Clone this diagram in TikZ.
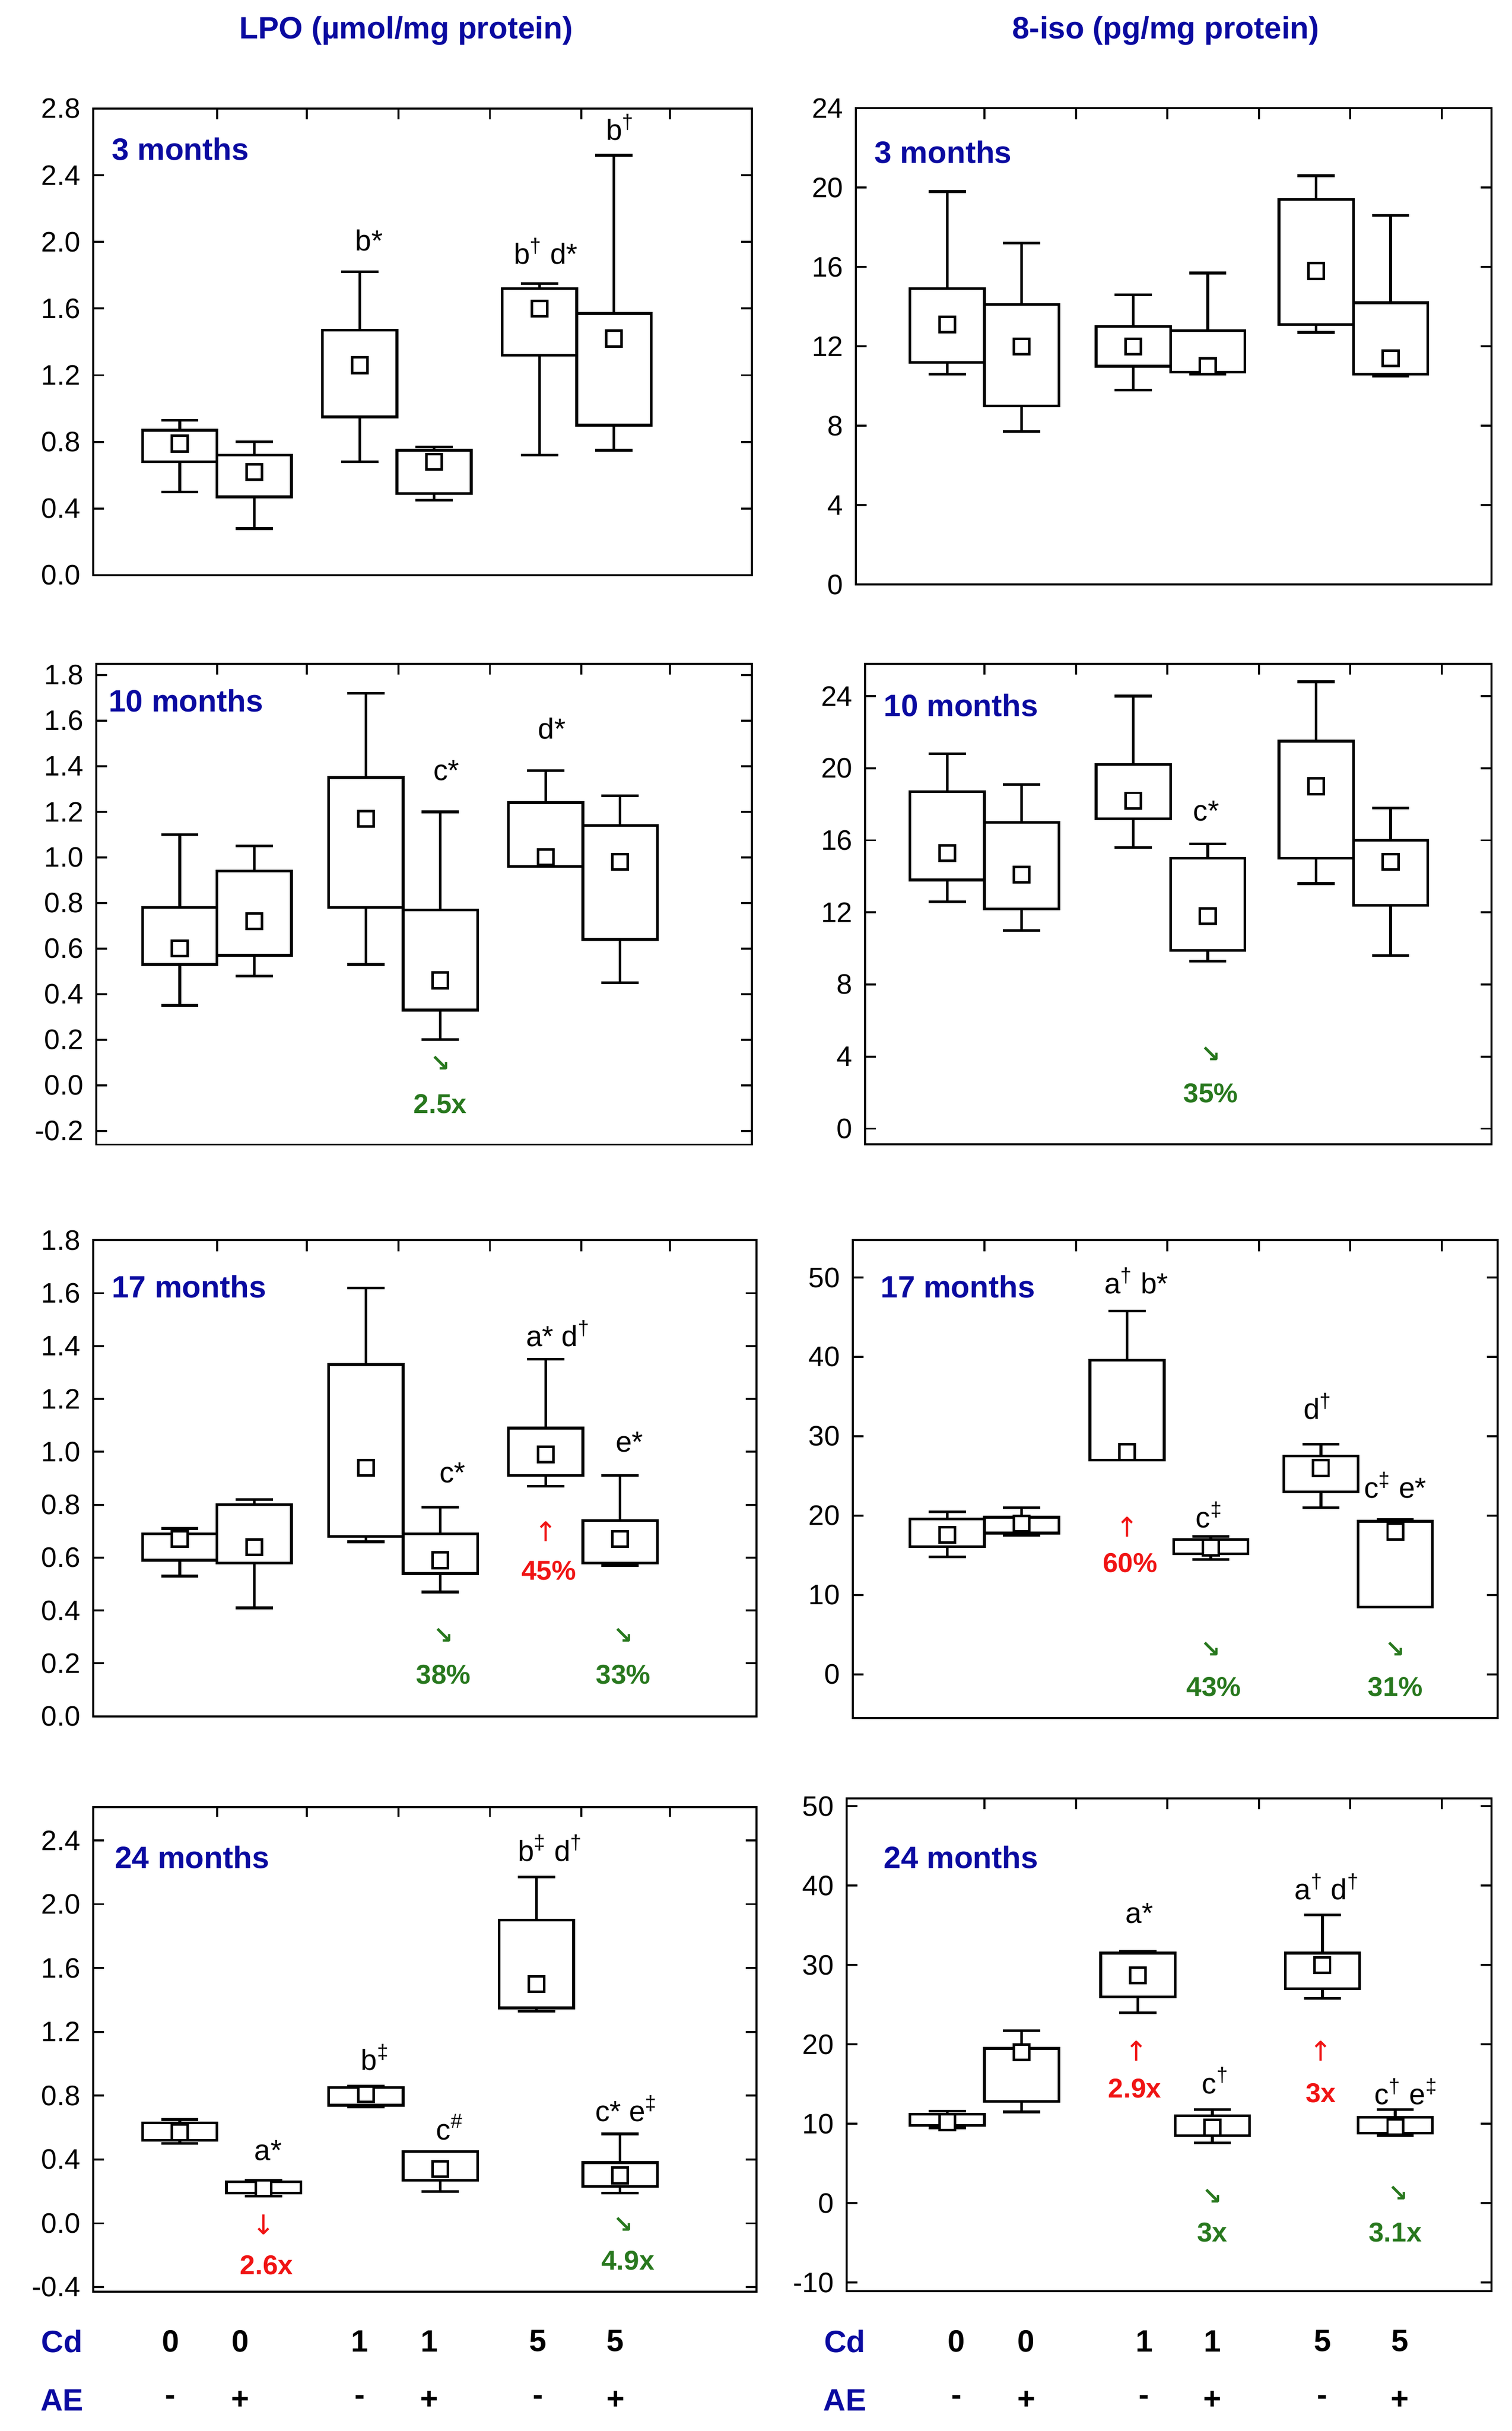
\documentclass[tikz,border=0pt]{standalone}
\usepackage{fontspec}
\setmainfont{Liberation Sans}
\newfontfamily\dv{DejaVu Sans}
\definecolor{tblue}{RGB}{10,10,160}
\definecolor{tred}{RGB}{240,20,20}
\definecolor{tgreen}{RGB}{40,120,30}
\begin{document}
\begin{tikzpicture}[x=0.03cm,y=-0.03cm,
  frame/.style={line width=1.1pt,black},
  bline/.style={line width=1.5pt,black},
  mk/.style={draw,line width=1.4pt,minimum size=0.3cm,inner sep=0pt,fill=white},
  tick/.style={font=\fontsize{15.5}{17}\selectfont},
  ann/.style={font=\fontsize{16}{18}\selectfont},
  pct/.style={font=\bfseries\fontsize{15}{17}\selectfont},
  ttl/.style={font=\bfseries\fontsize{17}{19}\selectfont,text=tblue},
  plab/.style={font=\bfseries\fontsize{17}{19}\selectfont,text=tblue,anchor=west},
  grn/.style={font=\dv\bfseries\fontsize{13}{15}\selectfont,text=tgreen},
  rd/.style={font=\dv\fontsize{15}{17}\selectfont,text=tred}]
\useasboundingbox (0,0) rectangle (975,1568);
\newcommand\bx[6]{%
 \draw[bline] (#1-24,#3) rectangle (#1+24,#4);
 \draw[bline] (#1,#2)--(#1,#3) (#1,#4)--(#1,#5) (#1-12,#2)--(#1+12,#2) (#1-12,#5)--(#1+12,#5);
 \node[mk] at (#1,#6) {};}
\newcommand\axes[5]{%
 \draw[frame] (#1,#4) rectangle (#2,#3);
 \foreach \v/\l in {#5}{\draw[frame] (#1,\v)--++(7,0) (#2,\v)--++(-7,0);
  \node[tick,anchor=east] at (#1-4,\v) {\l};}}
\newcommand\topticksL[1]{\foreach \t in {140,198,257,316,375,432}{\draw[frame] (\t,#1)--++(0,7);}}
\newcommand\topticksR[1]{\foreach \t in {635,694,753,812,871,930}{\draw[frame] (\t,#1)--++(0,7);}}
% titles
\node[ttl] at (262,20) {LPO (µmol/mg protein)};
\node[ttl] at (752,20) {8-iso (pg/mg protein)};
% ---------- row 1
\begin{scope}[shift={(0,371)},yscale=-107.5]
\axes{60}{485}{2.8}{0}{0/0.0,0.4/0.4,0.8/0.8,1.2/1.2,1.6/1.6,2.0/2.0,2.4/2.4,2.8/2.8}
\bx{116}{0.5}{0.68}{0.87}{0.93}{0.79}
\bx{164}{0.28}{0.47}{0.72}{0.8}{0.62}
\bx{232}{0.68}{0.95}{1.47}{1.82}{1.26}
\bx{280}{0.45}{0.49}{0.75}{0.77}{0.68}
\bx{348}{0.72}{1.32}{1.72}{1.75}{1.6}
\bx{396}{0.75}{0.9}{1.57}{2.52}{1.42}
\end{scope}
\topticksL{70}
\node[plab] at (68,96) {3 months};
\node[ann] at (238,155) {b*};
\node[ann] at (352,162) {b\textsuperscript{†} d*};
\node[ann] at (400,82) {b\textsuperscript{†}};
\begin{scope}[shift={(0,377)},yscale=-12.8]
\axes{552}{962}{24}{0}{0/0,4/4,8/8,12/12,16/16,20/20,24/24}
\bx{611}{10.6}{11.2}{14.9}{19.8}{13.1}
\bx{659}{7.7}{9}{14.1}{17.2}{12}
\bx{731}{9.8}{11}{13}{14.6}{12}
\bx{779}{10.6}{10.7}{12.8}{15.7}{11}
\bx{849}{12.7}{13.1}{19.4}{20.6}{15.8}
\bx{897}{10.5}{10.6}{14.2}{18.6}{11.4}
\end{scope}
\topticksR{70}
\node[plab] at (560,98) {3 months};
% ---------- row 2
\begin{scope}[shift={(0,700)},yscale=-147]
\axes{62}{485}{1.85}{-0.26}{-0.2/-0.2,0/0.0,0.2/0.2,0.4/0.4,0.6/0.6,0.8/0.8,1.0/1.0,1.2/1.2,1.4/1.4,1.6/1.6,1.8/1.8}
\bx{116}{0.35}{0.53}{0.78}{1.1}{0.6}
\bx{164}{0.48}{0.57}{0.94}{1.05}{0.72}
\bx{236}{0.53}{0.78}{1.35}{1.72}{1.17}
\bx{284}{0.2}{0.33}{0.77}{1.2}{0.46}
\bx{352}{0.96}{0.96}{1.24}{1.38}{1.0}
\bx{400}{0.45}{0.64}{1.14}{1.27}{0.98}
\end{scope}
\topticksL{428}
\node[plab] at (66,452) {10 months};
\node[ann] at (288,497) {c*};
\node[ann] at (356,470) {d*};
\node[grn] at (284,686) {↘};
\node[pct,text=tgreen] at (284,712) {2.5x};
\begin{scope}[shift={(0,728)},yscale=-11.625]
\axes{558}{962}{25.8}{-0.86}{0/0,4/4,8/8,12/12,16/16,20/20,24/24}
\bx{611}{12.6}{13.8}{18.7}{20.8}{15.3}
\bx{659}{11}{12.2}{17}{19.1}{14.1}
\bx{731}{15.6}{17.2}{20.2}{24}{18.2}
\bx{779}{9.3}{9.9}{15}{15.8}{11.8}
\bx{849}{13.6}{15}{21.5}{24.8}{19}
\bx{897}{9.6}{12.4}{16}{17.8}{14.8}
\end{scope}
\topticksR{428}
\node[plab] at (566,455) {10 months};
\node[ann] at (778,523) {c*};
\node[grn] at (781,680) {↘};
\node[pct,text=tgreen] at (781,705) {35\%};
% ---------- row 3
\begin{scope}[shift={(0,1107)},yscale=-170.6]
\axes{60}{488}{1.8}{0}{0/0.0,0.2/0.2,0.4/0.4,0.6/0.6,0.8/0.8,1.0/1.0,1.2/1.2,1.4/1.4,1.6/1.6,1.8/1.8}
\bx{116}{0.53}{0.59}{0.69}{0.71}{0.67}
\bx{164}{0.41}{0.58}{0.8}{0.82}{0.64}
\bx{236}{0.66}{0.68}{1.33}{1.62}{0.94}
\bx{284}{0.47}{0.54}{0.69}{0.79}{0.59}
\bx{352}{0.87}{0.91}{1.09}{1.35}{0.99}
\bx{400}{0.57}{0.58}{0.74}{0.91}{0.67}
\end{scope}
\topticksL{800}
\node[plab] at (68,830) {17 months};
\node[ann] at (292,950) {c*};
\node[ann] at (360,860) {a* d\textsuperscript{†}};
\node[ann] at (406,930) {e*};
\node[rd] at (352,988) {↑};
\node[pct,text=tred] at (354,1013) {45\%};
\node[grn] at (286,1055) {↘};
\node[pct,text=tgreen] at (286,1080) {38\%};
\node[grn] at (402,1055) {↘};
\node[pct,text=tgreen] at (402,1080) {33\%};
\begin{scope}[shift={(0,1080)},yscale=-5.12]
\axes{550}{966}{54.7}{-5.5}{0/0,10/10,20/20,30/30,40/40,50/50}
\bx{611}{14.8}{16.1}{19.6}{20.5}{17.6}
\bx{659}{17.5}{17.8}{19.8}{21}{19}
\bx{727}{27}{27}{39.6}{45.8}{28}
\bx{781}{14.5}{15.2}{17}{17.4}{16}
\bx{852}{21}{23}{27.5}{29}{26}
\bx{900}{8.5}{8.5}{19.3}{19.5}{18}
\end{scope}
\topticksR{800}
\node[plab] at (564,830) {17 months};
\node[ann] at (733,826) {a\textsuperscript{†} b*};
\node[rd] at (727,985) {↑};
\node[pct,text=tred] at (729,1008) {60\%};
\node[ann] at (780,977) {c\textsuperscript{‡}};
\node[grn] at (781,1064) {↘};
\node[pct,text=tgreen] at (783,1088) {43\%};
\node[ann] at (850,907) {d\textsuperscript{†}};
\node[ann] at (900,958) {c\textsuperscript{‡} e*};
\node[grn] at (900,1064) {↘};
\node[pct,text=tgreen] at (900,1088) {31\%};
% ---------- row 4
\begin{scope}[shift={(0,1434)},yscale=-102.9]
\axes{60}{488}{2.61}{-0.43}{-0.4/-0.4,0/0.0,0.4/0.4,0.8/0.8,1.2/1.2,1.6/1.6,2.0/2.0,2.4/2.4}
\bx{116}{0.5}{0.52}{0.63}{0.65}{0.57}
\bx{170}{0.17}{0.19}{0.26}{0.27}{0.22}
\bx{236}{0.73}{0.74}{0.85}{0.86}{0.81}
\bx{284}{0.2}{0.27}{0.45}{0.45}{0.34}
\bx{346}{1.33}{1.35}{1.9}{2.17}{1.5}
\bx{400}{0.19}{0.23}{0.38}{0.56}{0.3}
\end{scope}
\topticksL{1165}
\node[plab] at (70,1198) {24 months};
\node[ann] at (173,1387) {a*};
\node[rd] at (170,1435) {↓};
\node[pct,text=tred] at (172,1461) {2.6x};
\node[ann] at (242,1327) {b\textsuperscript{‡}};
\node[ann] at (290,1372) {c\textsuperscript{\#}};
\node[ann] at (355,1192) {b\textsuperscript{‡} d\textsuperscript{†}};
\node[ann] at (404,1360) {c* e\textsuperscript{‡}};
\node[grn] at (402,1435) {↘};
\node[pct,text=tgreen] at (405,1458) {4.9x};
\begin{scope}[shift={(0,1421)},yscale=-5.12]
\axes{546}{962}{51}{-11.1}{-10/-10,0/0,10/10,20/20,30/30,40/40,50/50}
\bx{734}{24}{26}{31.5}{31.7}{28.7}
\bx{611}{9.5}{9.8}{11.2}{11.6}{10.2}
\bx{659}{11.5}{12.8}{19.5}{21.7}{19}
\bx{782}{7.6}{8.5}{11}{11.8}{9.5}
\bx{853}{25.8}{27}{31.5}{36.3}{30}
\bx{900}{8.5}{8.8}{10.8}{11.8}{9.6}
\end{scope}
\topticksR{1160}
\node[plab] at (566,1198) {24 months};
\node[ann] at (735,1234) {a*};
\node[rd] at (733,1323) {↑};
\node[pct,text=tred] at (732,1347) {2.9x};
\node[ann] at (784,1342) {c\textsuperscript{†}};
\node[grn] at (782,1417) {↘};
\node[pct,text=tgreen] at (782,1440) {3x};
\node[ann] at (856,1217) {a\textsuperscript{†} d\textsuperscript{†}};
\node[rd] at (852,1323) {↑};
\node[pct,text=tred] at (852,1350) {3x};
\node[ann] at (907,1349) {c\textsuperscript{†} e\textsuperscript{‡}};
\node[grn] at (902,1415) {↘};
\node[pct,text=tgreen] at (900,1440) {3.1x};
% ---------- bottom rows
\foreach \x in {40,545}{
 \node[ttl] at (\x,1510) {Cd};
 \node[ttl] at (\x,1548) {AE};}
\foreach \x/\c/\a in {110/0/-,155/0/+,232/1/-,277/1/+,347/5/-,397/5/+,617/0/-,662/0/+,738/1/-,782/1/+,853/5/-,903/5/+}{
 \node[font=\bfseries\fontsize{17}{19}\selectfont] at (\x,1510) {\c};
 \node[font=\bfseries\fontsize{17}{19}\selectfont] at (\x,1548) {\a};}
\end{tikzpicture}
\end{document}
